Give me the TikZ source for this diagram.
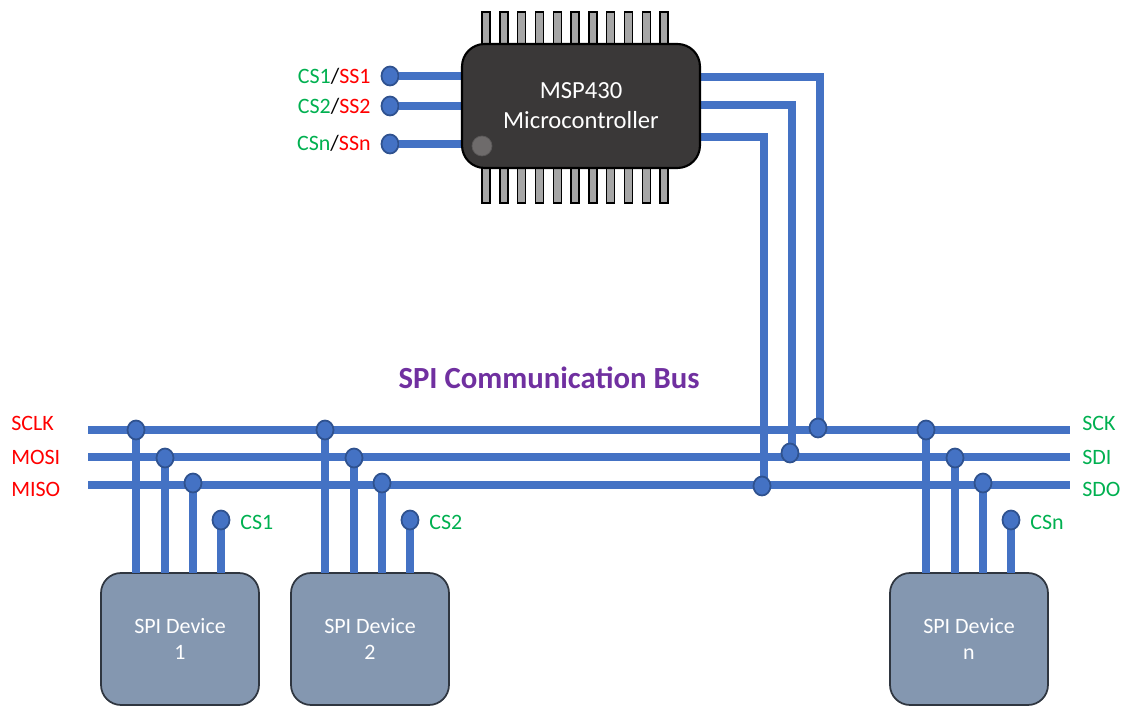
\documentclass[tikz,border=0pt]{standalone}
\usepackage{fontspec}
\setmainfont{Carlito}
\usetikzlibrary{shapes.geometric}
\definecolor{wblue}{RGB}{68,114,196}
\definecolor{wedge}{RGB}{47,82,143}
\definecolor{gg}{RGB}{0,176,80}
\begin{document}
\begin{tikzpicture}[x=0.02cm,y=-0.02cm,
  wire/.style={line width=4.5pt,draw=wblue},
  dot/.style={ellipse,inner sep=0,minimum width=0.34cm,minimum height=0.38cm,fill=wblue,draw=wedge,line width=1pt},
  pin/.style={fill={rgb,255:red,166;green,166;blue,166},draw=black,line width=0.8pt},
  dev/.style={draw={rgb,255:red,47;green,54;blue,64},line width=1pt,fill={rgb,255:red,132;green,151;blue,176},rounded corners=0.4cm,minimum width=3.16cm,minimum height=2.64cm,text=white,font=\fontsize{12.5}{15}\selectfont,align=center},
  lbl/.style={font=\fontsize{12.5}{15}\selectfont,inner sep=0},
  gr/.style={lbl,text=gg},
  rd/.style={lbl,text=red}]
\useasboundingbox (0,0) rectangle (1134,715);
% pins
\foreach \i in {0,...,10}{
  \filldraw[pin] (486+\i*17.8-4,12) rectangle (486+\i*17.8+4,46);
  \filldraw[pin] (486+\i*17.8-4,166) rectangle (486+\i*17.8+4,203);
}
% chip wires
\foreach \y/\n in {76/a,106/b,144/c}{
  \coordinate (l\n) at (462,\y);
  \node[dot] (d\n) at (390,\y) {};
  \draw[wire] (d\n) -- (l\n);
}
\draw[wire] (700,77) -- (820,77) -- (820,428);
\draw[wire] (700,105) -- (792,105) -- (792,453);
\draw[wire] (700,137) -- (764,137) -- (764,486);
\node[draw=black,line width=1.2pt,fill={rgb,255:red,58;green,56;blue,56},rounded corners=0.45cm,minimum width=4.76cm,minimum height=2.48cm,text=white,align=center,font=\fontsize{14}{17}\selectfont] (chip) at (581,106) {MSP430\\Microcontroller};
\filldraw[fill={rgb,255:red,110;green,107;blue,107},draw={rgb,255:red,90;green,88;blue,88}] (482,146) circle (0.2cm);
\node[lbl,anchor=east] at (371,76) {\textcolor{gg}{CS1}/\textcolor{red}{SS1}};
\node[lbl,anchor=east] at (371,106) {\textcolor{gg}{CS2}/\textcolor{red}{SS2}};
\node[lbl,anchor=east] at (371,143) {\textcolor{gg}{CSn}/\textcolor{red}{SSn}};
% buses
\foreach \y in {430,457,485} \draw[wire] (88,\y) -- (1070,\y);
\node[dot] at (818,428) {};
\node[dot] at (790,453) {};
\node[dot] at (762,486) {};
% devices
\foreach \x/\t in {180/1,370/2,969/n}{
  \node[dev] (dev\t) at (\x,639) {SPI Device\\ \t};
}
\foreach \bx/\lab in {136/CS1,325/CS2,926/CSn}{
  \draw[wire] (\bx,430) -- (\bx,573);
  \draw[wire] (\bx+29,457) -- (\bx+29,573);
  \draw[wire] (\bx+57,485) -- (\bx+57,573);
  \draw[wire] (\bx+85,520) -- (\bx+85,573);
  \node[dot] at (\bx,430) {};
  \node[dot] at (\bx+29,458) {};
  \node[dot] at (\bx+57,483) {};
  \node[dot] at (\bx+85,520) {};
  \node[gr,anchor=west] at (\bx+104,522) {\lab};
}
\node[rd,anchor=west] at (11,423) {SCLK};
\node[rd,anchor=west] at (11,457) {MOSI};
\node[rd,anchor=west] at (11,489) {MISO};
\node[gr,anchor=west] at (1082,423) {SCK};
\node[gr,anchor=west] at (1082,457) {SDI};
\node[gr,anchor=west] at (1082,489) {SDO};
\node[font=\bfseries\fontsize{17.5}{20}\selectfont,text={rgb,255:red,112;green,48;blue,160}] at (549,378) {SPI Communication Bus};
\end{tikzpicture}
\end{document}
